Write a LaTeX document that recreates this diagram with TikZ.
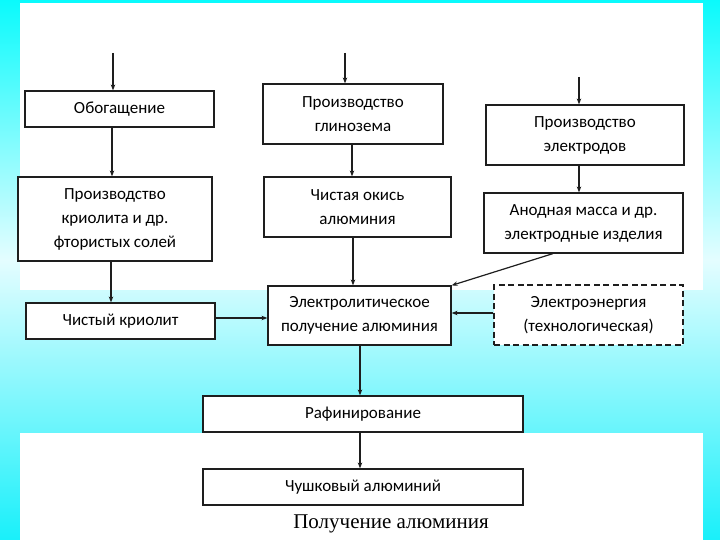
\documentclass[tikz,border=0pt]{standalone}
\usepackage{fontspec}
\setmainfont{Carlito}
\newfontfamily\titlefont{Liberation Serif}
\usetikzlibrary{arrows.meta}
\definecolor{cyanT}{RGB}{10,250,252}
\definecolor{cyanM}{RGB}{228,253,255}
\definecolor{cyanB}{RGB}{25,240,250}
\definecolor{lineC}{RGB}{30,30,30}
\begin{document}
\begin{tikzpicture}[x=1pt,y=-1pt,
  box/.style={draw=lineC, line width=1.2pt, fill=white, align=center, inner sep=0pt,
    font=\fontsize{17}{24}\selectfont},
  dbox/.style={box, dashed, dash pattern=on 6pt off 3.5pt},
  arr/.style={-{Stealth[length=6pt,width=4.5pt]}, line width=1.2pt, draw=lineC}]
\useasboundingbox (0,0) rectangle (720,540);
% background
\shade[top color=cyanT, bottom color=cyanM] (0,0) rectangle (720,260);
\shade[top color=cyanM, bottom color=cyanB] (0,260) rectangle (720,540);
\fill[white] (20,3) rectangle (703,290);
\fill[white] (20,433) rectangle (703,540);

% boxes
\node[box, minimum width=189pt, minimum height=36pt] (obog) at (119.5,109) {Обогащение};
\node[box, minimum width=194pt, minimum height=84pt] (krio) at (115,219) {Производство\\криолита и др.\\фтористых солей};
\node[box, minimum width=189pt, minimum height=36pt] (chkrio) at (120.5,321) {Чистый криолит};
\node[box, minimum width=180pt, minimum height=60pt] (glin) at (353,114) {Производство\\глинозема};
\node[box, minimum width=187pt, minimum height=60pt] (okis) at (357.5,207) {Чистая окись\\алюминия};
\node[box, minimum width=198pt, minimum height=60pt] (elec) at (585,135) {Производство\\электродов};
\node[box, minimum width=199pt, minimum height=60pt] (anod) at (583.5,223) {Анодная масса и др.\\электродные изделия};
\node[box, minimum width=183pt, minimum height=59pt] (eltr) at (359.5,315.5) {Электролитическое\\получение алюминия};
\node[dbox, minimum width=189pt, minimum height=60pt] (ener) at (588.5,315) {Электроэнергия\\(технологическая)};
\node[box, minimum width=320pt, minimum height=36pt] (raf) at (363,414) {Рафинирование};
\node[box, minimum width=320pt, minimum height=36pt] (chush) at (363,487) {Чушковый алюминий};
\node[font=\titlefont\fontsize{21}{25}\selectfont, inner sep=0pt] (title) at (391,524) {Получение алюминия};

% helper coordinates
\coordinate (in1) at (113,53);
\coordinate (in2) at (345,53);
\coordinate (in3) at (579,77);
\coordinate (xa) at (112,0);
\coordinate (xb) at (111,0);
\coordinate (xc) at (352,0);
\coordinate (xd) at (353,0);
\coordinate (xe) at (579,0);
\coordinate (xf) at (360,0);
\coordinate (ya) at (0,318);
\coordinate (yb) at (0,313);
\coordinate (an) at (553,0);

% connectors
\draw[arr] (in1) -- (in1 |- obog.north);
\draw[arr] (in2) -- (in2 |- glin.north);
\draw[arr] (in3) -- (in3 |- elec.north);
\draw[arr] (obog.south -| xa) -- (krio.north -| xa);
\draw[arr] (krio.south -| xb) -- (chkrio.north -| xb);
\draw[arr] (glin.south -| xc) -- (okis.north -| xc);
\draw[arr] (okis.south -| xd) -- (eltr.north -| xd);
\draw[arr] (elec.south -| xe) -- (anod.north -| xe);
\draw[arr] (anod.south -| an) -- (eltr.north east);
\draw[arr] (chkrio.east |- ya) -- (eltr.west |- ya);
\draw[arr] (ener.west |- yb) -- (eltr.east |- yb);
\draw[arr] (eltr.south -| xf) -- (raf.north -| xf);
\draw[arr] (raf.south -| xf) -- (chush.north -| xf);
\end{tikzpicture}
\end{document}
